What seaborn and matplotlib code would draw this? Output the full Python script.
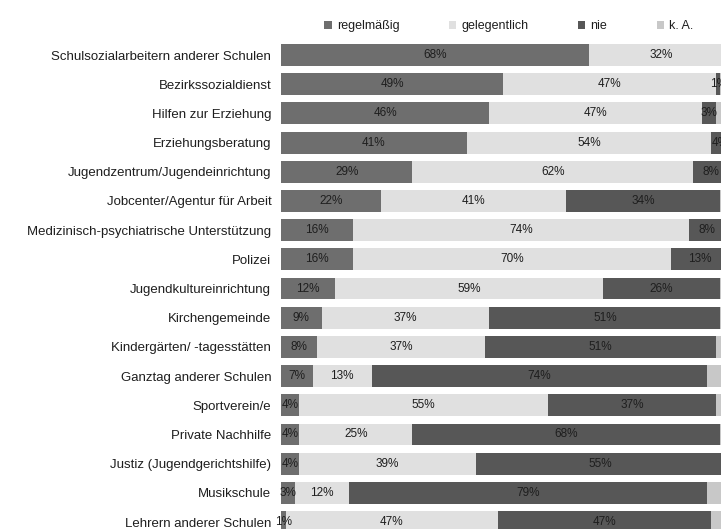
import matplotlib
matplotlib.use("Agg")
import matplotlib.pyplot as plt
import seaborn as sns
import pandas as pd
import numpy as np

categories = [
    "Schulsozialarbeitern anderer Schulen",
    "Bezirkssozialdienst",
    "Hilfen zur Erziehung",
    "Erziehungsberatung",
    "Jugendzentrum/Jugendeinrichtung",
    "Jobcenter/Agentur für Arbeit",
    "Medizinisch-psychiatrische Unterstützung",
    "Polizei",
    "Jugendkultureinrichtung",
    "Kirchengemeinde",
    "Kindergärten/ -tagesstätten",
    "Ganztag anderer Schulen",
    "Sportverein/e",
    "Private Nachhilfe",
    "Justiz (Jugendgerichtshilfe)",
    "Musikschule",
    "Lehrern anderer Schulen",
]
regelmaessig = [68, 49, 46, 41, 29, 22, 16, 16, 12, 9, 8, 7, 4, 4, 4, 3, 1]
gelegentlich = [32, 47, 47, 54, 62, 41, 74, 70, 59, 37, 37, 13, 55, 25, 39, 12, 47]
nie = [0, 1, 3, 4, 8, 34, 8, 13, 26, 51, 51, 74, 37, 68, 55, 79, 47]
k_a = [0, 3, 4, 1, 1, 3, 2, 1, 3, 3, 4, 6, 4, 3, 2, 6, 5]

series_names = ["regelmäßig", "gelegentlich", "nie", "k. A."]
series_values = [regelmaessig, gelegentlich, nie, k_a]
colors = ["#6e6e6e", "#e0e0e0", "#575757", "#c8c8c8"]
show_labels = [True, True, True, False]  # k. A. labels lie beyond the visible area

sns.set_theme(style="white")
plt.rcParams["font.family"] = ["Liberation Sans", "DejaVu Sans"]

fig = plt.figure(figsize=(7.21, 5.29), dpi=100)
ax = fig.add_axes([281 / 721, -0.0144, 453 / 721, 0.938])

left = np.zeros(len(categories))
for name, vals, col, show in zip(series_names, series_values, colors, show_labels):
    df = pd.DataFrame({"cat": categories, "val": vals})
    sns.barplot(data=df, y="cat", x="val", left=left, color=col, width=0.75,
                ax=ax, orient="h", label=name, edgecolor="none",
                order=categories)
    if show:
        for i, v in enumerate(vals):
            if v > 0:
                ax.text(left[i] + v / 2, i, f"{v}%", ha="center", va="center",
                        fontsize=8.5, color="#1e1e1e")
    left = left + np.array(vals)

ax.set_xlim(0, 100)
ax.set_ylim(len(categories) - 0.5, -0.5)
ax.set_xlabel("")
ax.set_ylabel("")
ax.set_xticks([])
ax.tick_params(axis="y", length=0, pad=7, labelsize=9.5)
for lab in ax.get_yticklabels():
    lab.set_color("#1e1e1e")
for s in ax.spines.values():
    s.set_visible(False)

leg = ax.legend(loc="lower left", bbox_to_anchor=(0.071, 0.994), ncol=4,
                frameon=False, fontsize=9, handlelength=0.6, handleheight=0.6,
                handletextpad=0.4, columnspacing=3.95)
for t in leg.get_texts():
    t.set_color("#1e1e1e")

fig.savefig("out.png", dpi=100)
